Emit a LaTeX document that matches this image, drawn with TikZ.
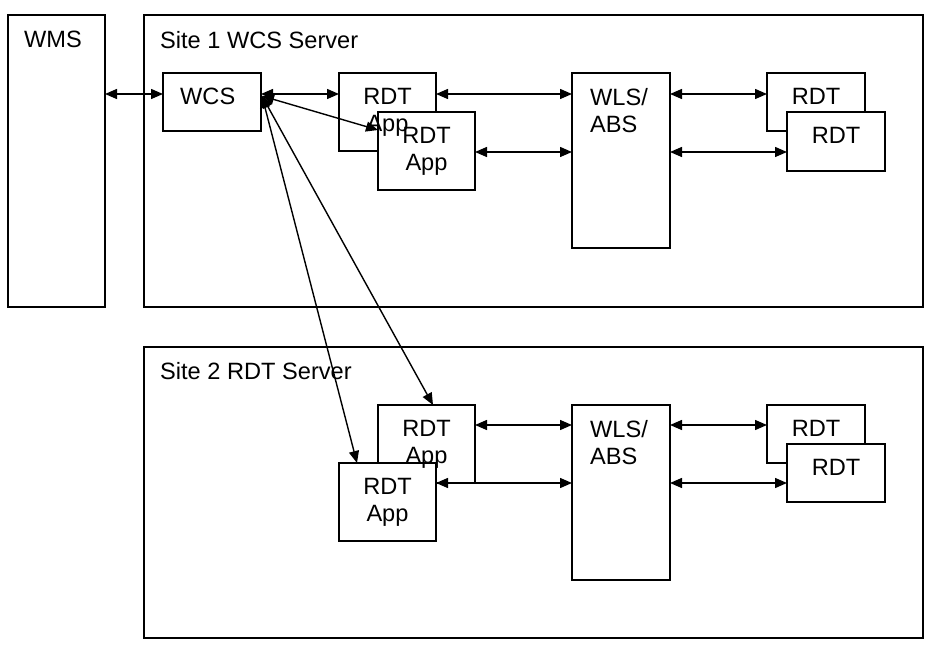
\documentclass[tikz,border=0pt]{standalone}
\usepackage{fontspec}
\setmainfont{Liberation Sans}
\usetikzlibrary{arrows.meta,calc}
\begin{document}
\begin{tikzpicture}[x=1pt,y=-1pt,
 box/.style={draw, line width=1.5pt, fill=white, anchor=north west, inner sep=0pt, outer sep=0pt},
 txt/.style={anchor=north, inner sep=0pt, align=center, font=\fontsize{23.6}{27}\selectfont},
 ltxt/.style={anchor=north west, inner sep=0pt, align=left, font=\fontsize{23.6}{27}\selectfont},
 link/.style={line width=1.4pt, {Triangle[length=12pt,width=10pt]}-{Triangle[length=12pt,width=10pt]}}]
\useasboundingbox (0,0) rectangle (946,655);
% containers
\node[box, minimum width=97, minimum height=292] (wms) at (8,15) {};
\node[box, minimum width=779, minimum height=292] (site1) at (144,15) {};
\node[box, minimum width=779, minimum height=291] (site2) at (144,347) {};
% site 1
\node[box, minimum width=98, minimum height=58] (wcs) at (163,73) {};
\node[box, minimum width=97, minimum height=78] (app1b) at (339,73) {};
\node[box, minimum width=97, minimum height=78] (app1f) at (378,112) {};
\node[box, minimum width=98, minimum height=175] (wls1) at (572,73) {};
\node[box, minimum width=98, minimum height=58] (rdt1b) at (767,73) {};
\node[box, minimum width=98, minimum height=59] (rdt1f) at (787,112) {};
% site 2
\node[box, minimum width=97, minimum height=78] (app2b) at (378,405) {};
\node[box, minimum width=97, minimum height=78] (app2f) at (339,463) {};
\node[box, minimum width=98, minimum height=175] (wls2) at (572,405) {};
\node[box, minimum width=98, minimum height=58] (rdt2b) at (767,405) {};
\node[box, minimum width=98, minimum height=58] (rdt2f) at (787,444) {};
% texts
\node[ltxt] (twms) at (24,31) {WMS};
\node[ltxt] (ts1) at (160,31) {Site 1 WCS Server};
\node[ltxt] (ts2) at (160,362) {Site 2 RDT Server};
\node[ltxt] (twcs) at (180,88) {WCS};
\node[txt] (tapp1b) at (387.5,88) {RDT\\App};
\node[txt] (tapp1f) at (426.5,127) {RDT\\App};
\node[ltxt] (twls1) at (590,88) {WLS/\\ABS};
\node[txt] (trdt1b) at (816,88) {RDT};
\node[txt] (trdt1f) at (836,127) {RDT};
\node[txt] (tapp2b) at (426.5,420) {RDT\\App};
\node[txt] (tapp2f) at (387.5,478) {RDT\\App};
\node[ltxt] (twls2) at (590,420) {WLS/\\ABS};
\node[txt] (trdt2b) at (816,420) {RDT};
\node[txt] (trdt2f) at (836,459) {RDT};
% connectors
\coordinate (wcsp) at ($(wcs.north east)+(1,23)$);
\draw[link] ($(wms.north east)+(0,79)$) -- ($(wcs.north west)+(0,21)$);
\draw[link] ($(wcs.north east)+(0,21)$) -- ($(app1b.north west)+(0,21)$);
\draw[link] (wcsp) -- ($(app1f.north west)+(0,18)$);
\draw[link] (wcsp) -- ($(app2b.north west)+(55,0)$);
\draw[link] (wcsp) -- ($(app2f.north west)+(18,0)$);
\draw[link] ($(app1b.north east)+(0,21)$) -- ($(wls1.north west)+(0,21)$);
\draw[link] ($(app1f.north east)+(0,40)$) -- ($(wls1.north west)+(0,79)$);
\draw[link] ($(wls1.north east)+(0,21)$) -- ($(rdt1b.north west)+(0,21)$);
\draw[link] ($(wls1.north east)+(0,79)$) -- ($(rdt1f.north west)+(0,40)$);
\draw[link] ($(app2b.north east)+(0,20)$) -- ($(wls2.north west)+(0,20)$);
\draw[link] ($(app2f.north east)+(0,20)$) -- ($(wls2.north west)+(0,78)$);
\draw[link] ($(wls2.north east)+(0,20)$) -- ($(rdt2b.north west)+(0,20)$);
\draw[link] ($(wls2.north east)+(0,78)$) -- ($(rdt2f.north west)+(0,39)$);
\end{tikzpicture}
\end{document}
